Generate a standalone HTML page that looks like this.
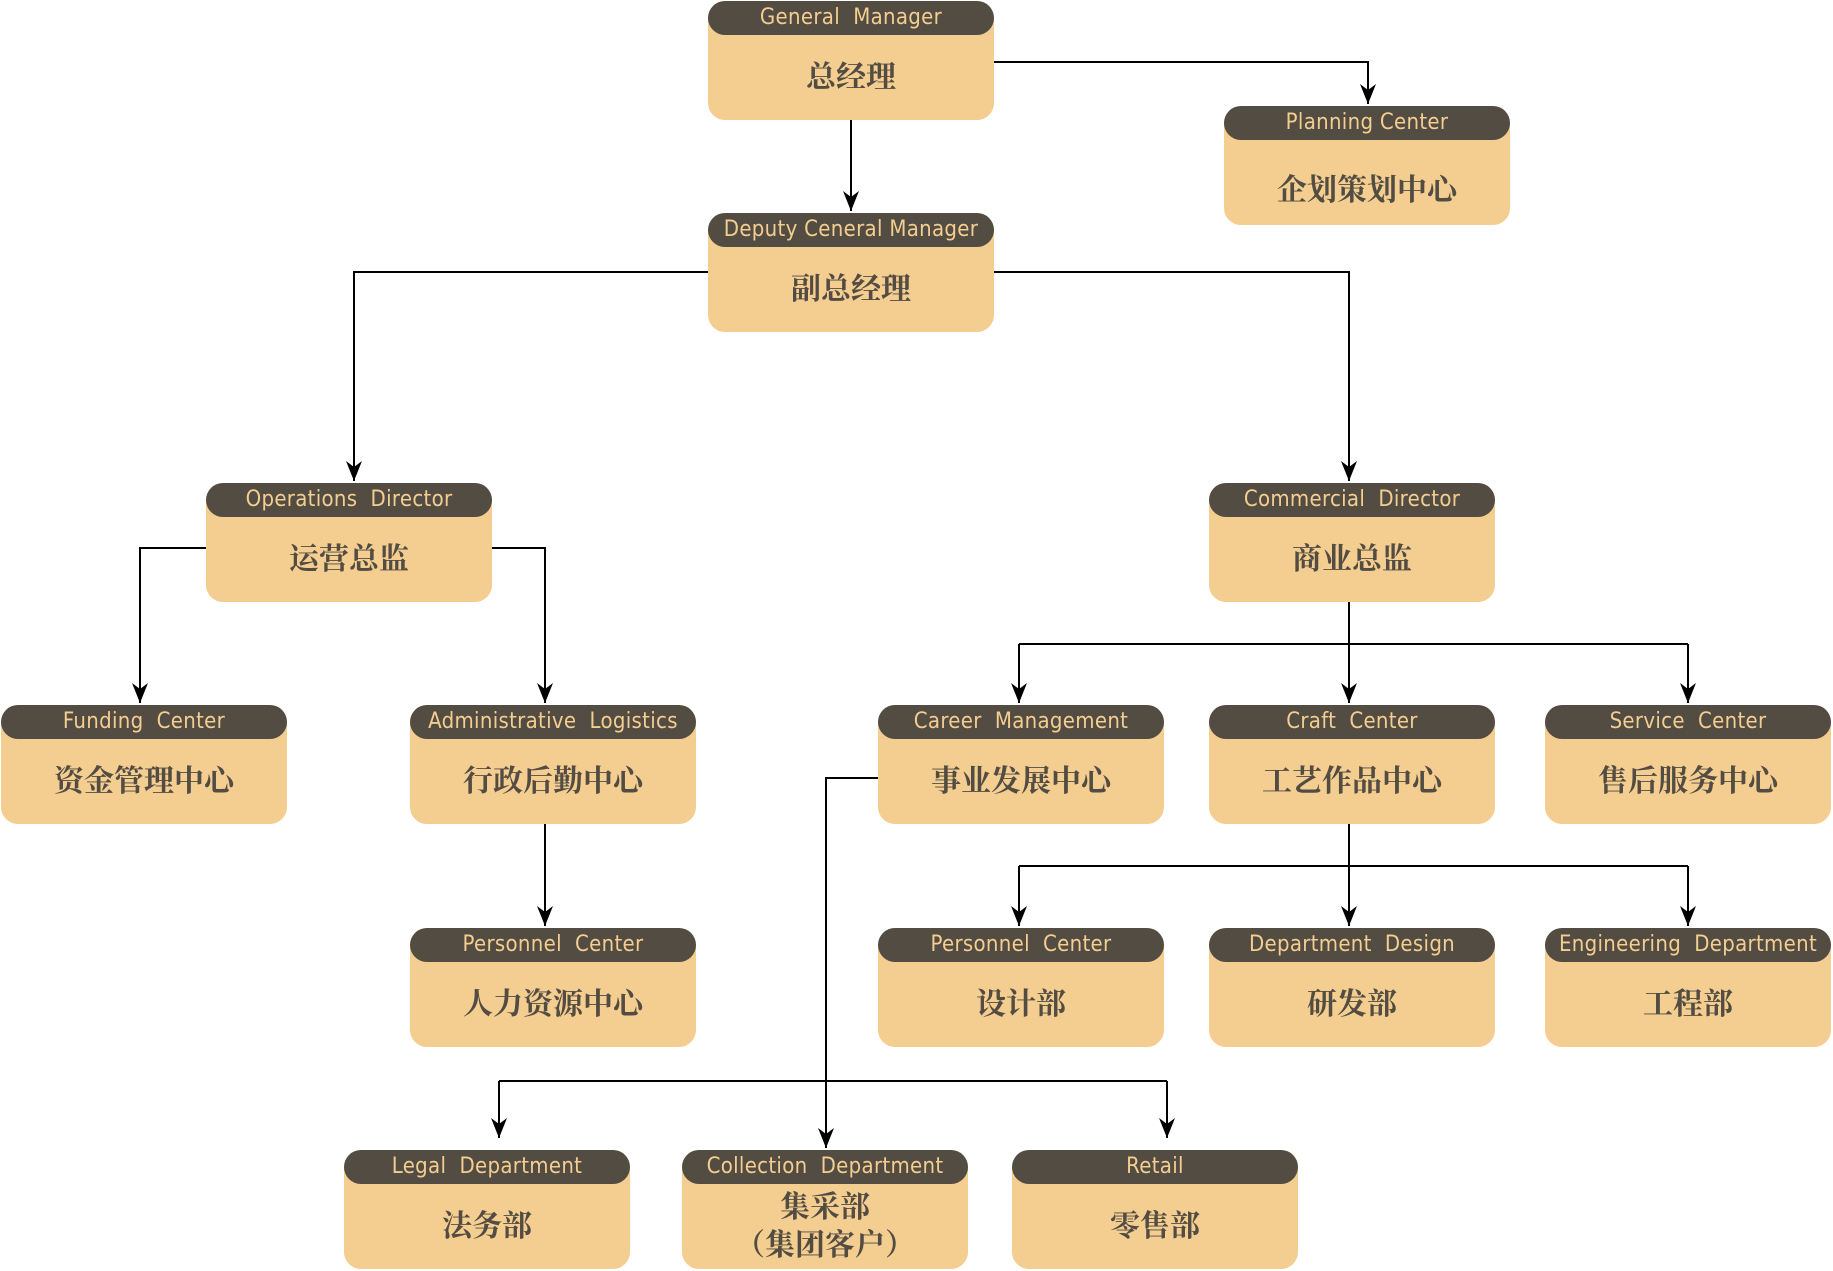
<!DOCTYPE html>
<html><head><meta charset="utf-8"><style>
html,body{margin:0;padding:0;background:#fff;}
body{width:1833px;height:1271px;position:relative;overflow:hidden;}
.b{position:absolute;width:286px;height:119px;background:#f4cd90;border-radius:17px;}
.h{position:absolute;left:0;top:0;width:286px;height:34px;background:#524c42;border-radius:17px;color:#f4cd90;font:22px/34px "DejaVu Sans Condensed","Liberation Sans Narrow","Liberation Sans",sans-serif;text-align:center;letter-spacing:0.3px;white-space:nowrap;}
.t{position:absolute;left:0;top:34px;width:286px;height:85px;display:flex;align-items:center;justify-content:center;text-align:center;color:#524c42;font:bold 30px/38px "Liberation Serif","Noto Serif CJK SC",serif;}
svg{position:absolute;left:0;top:0;}
</style></head><body>
<svg width="1833" height="1271" viewBox="0 0 1833 1271">
<defs><marker id="a" markerWidth="22" markerHeight="16" refX="20" refY="8" orient="auto" markerUnits="userSpaceOnUse"><path d="M0,0 L20,8 L0,16 L6,8 Z" fill="#000"/></marker></defs>
<g fill="none" stroke="#000" stroke-width="2">
<path d="M994,62 H1368 V104" marker-end="url(#a)"/>
<path d="M851,120 V211" marker-end="url(#a)"/>
<path d="M708,272 H354 V481" marker-end="url(#a)"/>
<path d="M994,272 H1349 V481" marker-end="url(#a)"/>
<path d="M206,548 H140 V703" marker-end="url(#a)"/>
<path d="M492,548 H545 V703" marker-end="url(#a)"/>
<path d="M1349,602 V703" marker-end="url(#a)"/>
<path d="M1019,644 H1688"/>
<path d="M1019,644 V703" marker-end="url(#a)"/>
<path d="M1688,644 V703" marker-end="url(#a)"/>
<path d="M545,824 V926" marker-end="url(#a)"/>
<path d="M1349,824 V926" marker-end="url(#a)"/>
<path d="M1019,866 H1688"/>
<path d="M1019,866 V926" marker-end="url(#a)"/>
<path d="M1688,866 V926" marker-end="url(#a)"/>
<path d="M878,778 H826 V1148" marker-end="url(#a)"/>
<path d="M499,1081 H1167"/>
<path d="M499,1081 V1138" marker-end="url(#a)"/>
<path d="M1167,1081 V1138" marker-end="url(#a)"/>
</g>
</svg>
<div class="b" style="left:708px;top:1px"><div class="h">General&nbsp; Manager</div><div class="t">总经理</div></div>
<div class="b" style="left:1224px;top:106px"><div class="h">Planning Center</div><div class="t" style="top:42px">企划策划中心</div></div>
<div class="b" style="left:708px;top:213px"><div class="h">Deputy Ceneral Manager</div><div class="t">副总经理</div></div>
<div class="b" style="left:206px;top:483px"><div class="h">Operations&nbsp; Director</div><div class="t">运营总监</div></div>
<div class="b" style="left:1209px;top:483px"><div class="h">Commercial&nbsp; Director</div><div class="t">商业总监</div></div>
<div class="b" style="left:1px;top:705px"><div class="h">Funding&nbsp; Center</div><div class="t">资金管理中心</div></div>
<div class="b" style="left:410px;top:705px"><div class="h">Administrative&nbsp; Logistics</div><div class="t">行政后勤中心</div></div>
<div class="b" style="left:878px;top:705px"><div class="h">Career&nbsp; Management</div><div class="t">事业发展中心</div></div>
<div class="b" style="left:1209px;top:705px"><div class="h">Craft&nbsp; Center</div><div class="t">工艺作品中心</div></div>
<div class="b" style="left:1545px;top:705px"><div class="h">Service&nbsp; Center</div><div class="t">售后服务中心</div></div>
<div class="b" style="left:410px;top:928px"><div class="h">Personnel&nbsp; Center</div><div class="t">人力资源中心</div></div>
<div class="b" style="left:878px;top:928px"><div class="h">Personnel&nbsp; Center</div><div class="t">设计部</div></div>
<div class="b" style="left:1209px;top:928px"><div class="h">Department&nbsp; Design</div><div class="t">研发部</div></div>
<div class="b" style="left:1545px;top:928px"><div class="h">Engineering&nbsp; Department</div><div class="t">工程部</div></div>
<div class="b" style="left:344px;top:1150px"><div class="h">Legal&nbsp; Department</div><div class="t">法务部</div></div>
<div class="b" style="left:682px;top:1150px"><div class="h">Collection&nbsp; Department</div><div class="t">集采部<br>（集团客户）</div></div>
<div class="b" style="left:1012px;top:1150px"><div class="h">Retail</div><div class="t">零售部</div></div>
</body></html>
